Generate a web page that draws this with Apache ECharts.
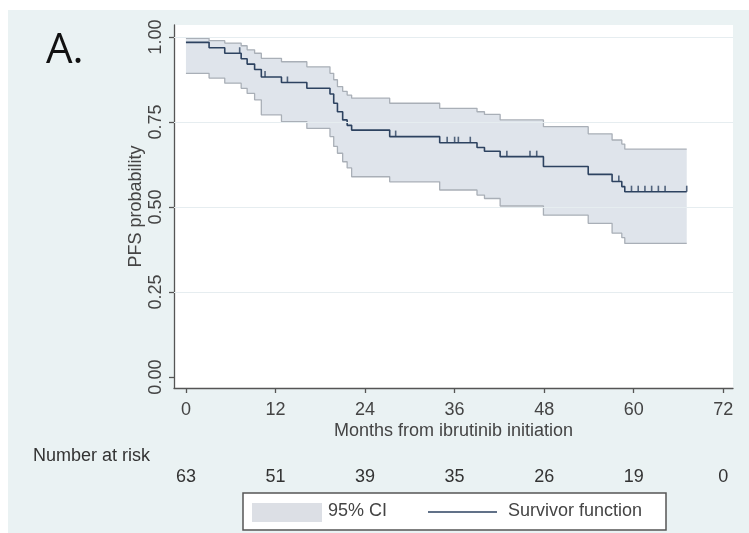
<!DOCTYPE html>
<html>
<head>
<meta charset="utf-8">
<script src="https://cdn.jsdelivr.net/npm/echarts@6/dist/echarts.min.js"></script>
<style>
  html, body { margin: 0; padding: 0; background: #fff; }
  #chart { width: 749px; height: 533px; }
</style>
</head>
<body>
<div id="chart"></div>
<script>
// Step times (months) where the survivor function / CI change
const months   = [0, 3.1, 5.2, 7.4, 8.2, 9.2, 10.1, 12.8, 16.2, 19.3, 19.8, 20.3, 21.0, 21.6, 22.2, 27.3, 34.0, 39.0, 40.0, 42.1, 47.9, 53.9, 57.1, 58.4, 58.8, 67.1];
const survival = [0.984, 0.968, 0.952, 0.936, 0.920, 0.904, 0.882, 0.866, 0.849, 0.832, 0.805, 0.780, 0.756, 0.740, 0.726, 0.707, 0.689, 0.675, 0.664, 0.648, 0.619, 0.596, 0.575, 0.560, 0.545, 0.545];
const ciUpper  = [0.996, 0.989, 0.982, 0.974, 0.962, 0.952, 0.937, 0.927, 0.912, 0.893, 0.874, 0.854, 0.840, 0.829, 0.820, 0.805, 0.790, 0.780, 0.772, 0.756, 0.736, 0.715, 0.697, 0.685, 0.670, 0.670];
const ciLower  = [0.893, 0.879, 0.864, 0.849, 0.834, 0.815, 0.771, 0.751, 0.731, 0.707, 0.678, 0.658, 0.633, 0.615, 0.589, 0.574, 0.550, 0.535, 0.525, 0.503, 0.476, 0.452, 0.423, 0.410, 0.393, 0.393];

// Censored observations
const censorMonths = [7.2, 10.6, 13.6, 28.1, 35.0, 36.0, 36.5, 38.1, 43.0, 46.1, 47.0, 58.0, 59.7, 60.6, 61.5, 62.4, 63.3, 64.2, 67.1];
const censorSurv   = [0.952, 0.882, 0.866, 0.707, 0.689, 0.689, 0.689, 0.689, 0.648, 0.648, 0.648, 0.575, 0.545, 0.545, 0.545, 0.545, 0.545, 0.545, 0.545];

// Axes and risk table
const xTicks = [0, 12, 24, 36, 48, 60, 72];
const yTicks = [0, 0.25, 0.5, 0.75, 1];
const atRisk = [63, 51, 39, 35, 26, 19, 0];

const FONT = '"Liberation Sans", Arial, sans-serif';
const lineColor = '#2d4260';
const bandFill = '#dfe4eb';
const bandEdge = '#a9afb7';

const chart = echarts.init(document.getElementById('chart'), null, { renderer: 'canvas' });

const xMin = -1.6, xMax = 73.3;
const yMin = -0.032, yMax = 1.035;

function bandRender(params, api) {
  if (params.dataIndex !== 0) return;
  const n = months.length;
  const pts = [];
  for (let i = 0; i < n; i++) {
    pts.push(api.coord([months[i], ciUpper[i]]));
    if (i < n - 1) pts.push(api.coord([months[i + 1], ciUpper[i]]));
  }
  for (let i = n - 1; i >= 0; i--) {
    if (i < n - 1) pts.push(api.coord([months[i + 1], ciLower[i]]));
    pts.push(api.coord([months[i], ciLower[i]]));
  }
  return { type: 'polygon', shape: { points: pts }, style: { fill: bandFill } };
}

chart.setOption({
  animation: false,
  backgroundColor: '#ffffff',
  grid: {
    left: 174, right: 16, top: 25, bottom: 145,
    show: true, backgroundColor: '#ffffff', borderWidth: 0,
    outerBoundsMode: 'none'
  },
  xAxis: [{
    type: 'value', min: xMin, max: xMax, position: 'bottom',
    axisLine: { show: true, onZero: false, lineStyle: { color: '#555', width: 1.3 } },
    axisTick: { show: true, customValues: xTicks, length: 5, lineStyle: { color: '#555', width: 1.3 } },
    axisLabel: { customValues: xTicks, fontSize: 18, color: '#444', fontFamily: FONT, margin: 13 },
    splitLine: { show: false },
    name: 'Months from ibrutinib initiation',
    nameLocation: 'middle', nameGap: 34, nameMoveOverlap: false,
    nameTextStyle: { fontSize: 18, color: '#444', fontFamily: FONT }
  }, {
    type: 'value', min: xMin, max: xMax, position: 'bottom', offset: 78,
    axisLine: { show: false }, axisTick: { show: false }, splitLine: { show: false },
    axisLabel: {
      customValues: xTicks, fontSize: 18, color: '#333', fontFamily: FONT, margin: 2,
      formatter: function (v) { const i = xTicks.indexOf(v); return i >= 0 ? String(atRisk[i]) : ''; }
    }
  }],
  yAxis: {
    type: 'value', min: yMin, max: yMax,
    axisLine: { show: true, onZero: false, lineStyle: { color: '#555', width: 1.3 } },
    axisTick: { show: true, customValues: yTicks, length: 5, lineStyle: { color: '#555', width: 1.3 } },
    axisLabel: {
      customValues: yTicks, rotate: 90, fontSize: 18, color: '#444', fontFamily: FONT, margin: 9,
      formatter: function (v) { return v.toFixed(2); }
    },
    splitLine: { show: false },
    name: 'PFS probability', nameLocation: 'middle', nameGap: 29, nameMoveOverlap: false,
    nameTextStyle: { fontSize: 18, color: '#444', fontFamily: FONT }
  },
  series: [
    {
      type: 'line', data: [], z: 1, silent: true,
      markLine: {
        silent: true, symbol: 'none', label: { show: false },
        lineStyle: { color: '#e6edf0', width: 1.2, type: 'solid' },
        data: yTicks.filter(v => v > 0).map(v => ({ yAxis: v }))
      }
    },
    {
      type: 'custom', name: '95% CI', z: 2, silent: true,
      renderItem: bandRender,
      data: months.map((m, i) => [m, ciLower[i], ciUpper[i]]),
      encode: { x: 0, y: [1, 2] }
    },
    {
      type: 'line', name: 'lower', step: 'end', symbol: 'none', z: 3,
      data: months.map((m, i) => [m, ciLower[i]]),
      lineStyle: { color: bandEdge, width: 1.3 }
    },
    {
      type: 'line', name: 'upper', step: 'end', symbol: 'none', z: 3,
      data: months.map((m, i) => [m, ciUpper[i]]),
      lineStyle: { color: bandEdge, width: 1.3 }
    },
    {
      type: 'line', name: 'Survivor function', step: 'end', symbol: 'none', z: 4,
      data: months.map((m, i) => [m, survival[i]]),
      lineStyle: { color: lineColor, width: 1.6 }
    },
    {
      type: 'scatter', z: 5, symbol: 'rect', symbolSize: [1.6, 6], symbolOffset: [0, -3],
      data: censorMonths.map((m, i) => [m, censorSurv[i]]),
      itemStyle: { color: lineColor }
    }
  ],
  graphic: [
    { type: 'rect', z: -100, shape: { x: 8, y: 10, width: 741, height: 523 }, style: { fill: '#eaf2f3' }, silent: true },
    { type: 'text', left: 46, top: 30, style: { text: 'A.', fontSize: 42, fill: '#111', fontFamily: '"Open Sans", "Liberation Sans", sans-serif' } },
    { type: 'text', left: 33, top: 447, style: { text: 'Number at risk', fontSize: 18, fill: '#333', fontFamily: FONT } },
    { type: 'rect', shape: { x: 243, y: 493, width: 423, height: 37 }, style: { fill: '#ffffff', stroke: '#555', lineWidth: 1.5 } },
    { type: 'rect', shape: { x: 252, y: 503, width: 70, height: 19 }, style: { fill: '#dcdfe5' } },
    { type: 'text', left: 328, top: 502, style: { text: '95% CI', fontSize: 18, fill: '#444', fontFamily: FONT } },
    { type: 'line', shape: { x1: 428, y1: 512, x2: 497, y2: 512 }, style: { stroke: lineColor, lineWidth: 1.3 } },
    { type: 'text', left: 508, top: 502, style: { text: 'Survivor function', fontSize: 18, fill: '#444', fontFamily: FONT } }
  ]
});
</script>
</body>
</html>
